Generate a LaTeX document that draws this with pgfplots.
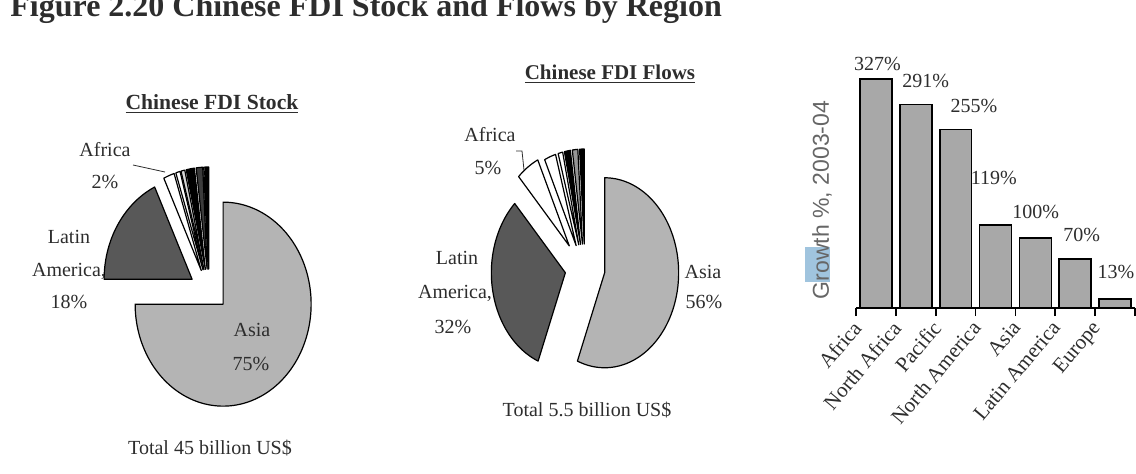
\documentclass[border=0pt]{standalone}
\usepackage{fontspec}
\setmainfont{Liberation Serif}
\newfontfamily\sansf{Liberation Sans}
\usepackage{pgfplots}
\pgfplotsset{compat=1.18}
\definecolor{asia}{RGB}{180,180,180}
\definecolor{latam}{RGB}{88,88,88}
\definecolor{lightg}{RGB}{215,215,215}
\definecolor{midg}{RGB}{150,150,150}
\definecolor{darkg}{RGB}{60,60,60}
\definecolor{barfill}{RGB}{168,168,168}
\definecolor{txt}{RGB}{45,45,45}
\definecolor{hl}{RGB}{160,196,222}
% #1 cx0, #2 cy0, #3 rx, #4 ry, #5 cumulative start (%), #6 share (%), #7 explode (px), #8 fill
\newcommand\pieslice[8]{%
  \pgfmathsetmacro\psA{90-3.6*(#5+#6)}%
  \pgfmathsetmacro\psB{90-3.6*#5}%
  \pgfmathsetmacro\psM{90-3.6*(#5+#6/2)}%
  \pgfmathsetmacro\psX{#1+#7*cos(\psM)}%
  \pgfmathsetmacro\psY{#2-#7*sin(\psM)}%
  \pgfmathtruncatemacro\psN{max(4,#6*2)}%
  \edef\pstemp{\noexpand\addplot[fill=#8, draw=black, line width=0.6pt, line join=round,
    domain=\psA:\psB, samples=\psN, variable=\noexpand\t]
    ({\psX+#3*cos(\noexpand\t)}, {\psY-#4*sin(\noexpand\t)}) -- (axis cs:\psX,\psY) -- cycle;}%
  \pstemp
}
\begin{document}
\begin{tikzpicture}
\path[use as bounding box] (0,0) rectangle (568pt,236.5pt);
\begin{axis}[at={(0,0)}, anchor=south west, scale only axis, width=568pt, height=236.5pt,
  xmin=0, xmax=1136, ymin=0, ymax=473, y dir=reverse, hide axis, clip=false]
% highlight behind the y label of the bar chart
\fill[hl] (axis cs:805,247) rectangle (axis cs:830,282);
% ---- Chinese FDI Stock (total 45 billion US$) ----
\pieslice{209}{290}{88}{102}{0}{75}{20}{asia}
\pieslice{209}{290}{88}{102}{75}{18}{20}{latam}
\pieslice{209}{290}{88}{102}{93}{2}{21}{white}
\pieslice{209}{290}{88}{102}{95}{0.8}{21}{white}
\pieslice{209}{290}{88}{102}{95.8}{0.7}{21}{lightg}
\pieslice{209}{290}{88}{102}{96.5}{1.5}{21}{black}
\pieslice{209}{290}{88}{102}{98}{1.2}{21}{darkg}
\pieslice{209}{290}{88}{102}{99.2}{0.3}{21}{midg}
\pieslice{209}{290}{88}{102}{99.5}{0.5}{21}{black}
% ---- Chinese FDI Flows (total 5.5 billion US$) ----
\pieslice{585}{269}{74}{95}{0}{56}{20}{asia}
\pieslice{585}{269}{74}{95}{56}{32}{20}{latam}
\pieslice{585}{269}{74}{95}{88}{5}{28}{white}
\pieslice{585}{269}{74}{95}{93}{2.5}{25}{white}
\pieslice{585}{269}{74}{95}{95.5}{1}{25}{white}
\pieslice{585}{269}{74}{95}{96.5}{1.3}{25}{black}
\pieslice{585}{269}{74}{95}{97.8}{1.2}{25}{midg}
\pieslice{585}{269}{74}{95}{99}{1}{25}{black}
% leader lines
\draw[line width=0.4pt, txt] (axis cs:133,165) -- (axis cs:165,172);
\draw[line width=0.4pt, txt] (axis cs:516,151) -- (axis cs:522,151) -- (axis cs:524,170);
% texts
\node[anchor=base west, inner sep=0, text=txt, font=\bfseries\fontsize{16}{18}\selectfont]
  at (axis cs:10,16) {Figure 2.20 Chinese FDI Stock and Flows by Region};
\node[text=txt, font=\bfseries\fontsize{10.8}{12}\selectfont] at (axis cs:212,104) {\underline{Chinese FDI Stock}};
\node[text=txt, font=\bfseries\fontsize{10.5}{12}\selectfont] at (axis cs:610,74) {\underline{Chinese FDI Flows}};
\node[text=txt] at (axis cs:105,150) {Africa};
\node[text=txt] at (axis cs:105,182) {2\%};
\node[text=txt] at (axis cs:69,237) {Latin};
\node[text=txt] at (axis cs:69,271) {America,};
\node[text=txt] at (axis cs:69,302) {18\%};
\node[text=txt] at (axis cs:252,330) {Asia};
\node[text=txt] at (axis cs:251,364) {75\%};
\node[text=txt] at (axis cs:210,448) {Total 45 billion US\$};
\node[text=txt] at (axis cs:490,135) {Africa};
\node[text=txt] at (axis cs:488,168) {5\%};
\node[text=txt] at (axis cs:457,258) {Latin};
\node[text=txt] at (axis cs:455,293) {America,};
\node[text=txt] at (axis cs:453,327) {32\%};
\node[text=txt] at (axis cs:703,272) {Asia};
\node[text=txt] at (axis cs:704,302) {56\%};
\node[text=txt] at (axis cs:587,410) {Total 5.5 billion US\$};
% y label of the bar chart
\node[rotate=90, text=black!60, font=\sansf\fontsize{11.5}{13}\selectfont]
  at (axis cs:822,200) {Growth \%, 2003-04};
\end{axis}
% ---- Growth bar chart ----
\begin{axis}[at={(428pt,82.5pt)}, anchor=south west, scale only axis,
  width=139.5pt, height=126pt, xmin=-0.5, xmax=6.5, ymin=0, ymax=360,
  axis x line*=bottom, axis y line=none, ytick=\empty,
  xtick={0,...,6},
  xticklabels={Africa, North Africa, Pacific, North America, Asia, Latin America, Europe},
  major tick length=0pt, minor xtick={-0.5,0.5,...,6.5}, minor tick length=4pt,
  tick align=outside, tick style={black, line width=0.8pt},
  axis line style={black, line width=0.8pt},
  xticklabel style={xshift=-12.5pt, yshift=-4pt, rotate=50, anchor=north east, text=txt,
    inner sep=1pt, font=\fontsize{10.5}{12}\selectfont},
  clip=false]
\addplot[ybar, bar width=0.8, fill=barfill, draw=black, line width=0.8pt]
  coordinates {(0,327) (1,291) (2,255) (3,119) (4,100) (5,70) (6,13)};
\addplot[draw=none, mark=none, nodes near coords, point meta=explicit symbolic,
  every node near coord/.append style={anchor=center, text=txt, inner sep=0pt}]
  coordinates {(0.04,349) [327\%] (1.25,325) [291\%] (2.46,288) [255\%]
    (2.96,186) [119\%] (4.01,137) [100\%] (5.16,104) [70\%] (6.02,51) [13\%]};
\end{axis}
\end{tikzpicture}
\end{document}
